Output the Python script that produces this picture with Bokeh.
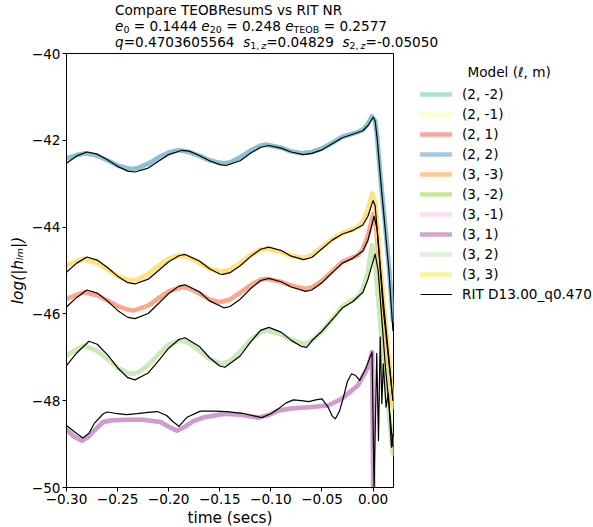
from bokeh.plotting import figure
from bokeh.models import Legend, LegendItem, FixedTicker, Range1d, Div
from bokeh.layouts import column
from bokeh.embed import file_html
from bokeh.resources import INLINE

FONT = "DejaVu Sans"

# ---------------- data ----------------
x_ticks = [-0.30, -0.25, -0.20, -0.15, -0.10, -0.05, 0.00]
x_tick_labels = ["\u22120.30", "\u22120.25", "\u22120.20", "\u22120.15", "\u22120.10", "\u22120.05", "0.00"]
y_ticks = [-50, -48, -46, -44, -42, -40]
y_tick_labels = ["\u221250", "\u221248", "\u221246", "\u221244", "\u221242", "\u221240"]

mode_labels = ["(2, -2)", "(2, -1)", "(2, 1)", "(2, 2)", "(3, -3)",
               "(3, -2)", "(3, -1)", "(3, 1)", "(3, 2)", "(3, 3)"]
mode_keys = ["22", "21", "21", "22", "33", "32", "31", "31", "32", "33"]
mode_colors = ["#8dd3c7", "#ffffb3", "#fb8072", "#80b1d3", "#fdb462",
               "#b3de69", "#fccde5", "#bc80bd", "#ccebc5", "#ffed6f"]
rit_label = "RIT D13.00_q0.470"

teob_22 = [(-0.300, -42.42), (-0.290, -42.34), (-0.281, -42.30), (-0.270, -42.35), (-0.260, -42.46),
           (-0.250, -42.58), (-0.240, -42.65), (-0.236, -42.66), (-0.230, -42.64), (-0.220, -42.54),
           (-0.210, -42.40), (-0.200, -42.28), (-0.190, -42.23), (-0.180, -42.27), (-0.170, -42.36),
           (-0.160, -42.46), (-0.150, -42.52), (-0.146, -42.53), (-0.140, -42.51), (-0.130, -42.39),
           (-0.120, -42.24), (-0.110, -42.12), (-0.104, -42.10), (-0.090, -42.17), (-0.080, -42.26),
           (-0.070, -42.30), (-0.060, -42.27), (-0.050, -42.19), (-0.040, -42.06), (-0.030, -41.92),
           (-0.020, -41.85), (-0.015, -41.81), (-0.010, -41.76), (-0.005, -41.62), (-0.001, -41.45),
           (0.002, -41.55), (0.0036, -41.84), (0.0085, -43.16), (0.0117, -43.92), (0.0155, -44.90),
           (0.0195, -46.15)]
rit_22 = [(-0.300, -42.53), (-0.290, -42.36), (-0.280, -42.27), (-0.270, -42.32), (-0.260, -42.45),
          (-0.250, -42.60), (-0.240, -42.71), (-0.233, -42.73), (-0.220, -42.64), (-0.210, -42.48),
          (-0.200, -42.33), (-0.187, -42.23), (-0.180, -42.25), (-0.170, -42.35), (-0.160, -42.47),
          (-0.150, -42.56), (-0.144, -42.58), (-0.130, -42.47), (-0.120, -42.30), (-0.110, -42.16),
          (-0.102, -42.12), (-0.090, -42.18), (-0.080, -42.27), (-0.068, -42.33), (-0.060, -42.30),
          (-0.050, -42.22), (-0.040, -42.08), (-0.030, -41.94), (-0.020, -41.86), (-0.010, -41.78),
          (-0.005, -41.66), (0.000, -41.47), (0.002, -41.55), (0.004, -41.95), (0.0085, -43.20),
          (0.0117, -44.00), (0.0155, -45.00), (0.0195, -46.40)]

teob_33 = [(-0.300, -44.88), (-0.290, -44.79), (-0.283, -44.73), (-0.270, -44.82), (-0.260, -44.97),
           (-0.250, -45.13), (-0.240, -45.22), (-0.236, -45.23), (-0.230, -45.21), (-0.220, -45.08),
           (-0.210, -44.89), (-0.200, -44.73), (-0.189, -44.65), (-0.180, -44.70), (-0.170, -44.82),
           (-0.160, -44.96), (-0.149, -45.03), (-0.140, -44.98), (-0.130, -44.83), (-0.120, -44.65),
           (-0.110, -44.52), (-0.104, -44.50), (-0.090, -44.57), (-0.080, -44.66), (-0.068, -44.71),
           (-0.060, -44.65), (-0.050, -44.46), (-0.040, -44.28), (-0.030, -44.14), (-0.020, -44.05),
           (-0.015, -44.00), (-0.010, -43.88), (-0.005, -43.60), (-0.0006, -43.23), (0.002, -43.45),
           (0.010, -45.70), (0.0195, -48.15)]
rit_33 = [(-0.300, -45.04), (-0.290, -44.83), (-0.280, -44.69), (-0.270, -44.76), (-0.260, -44.93),
          (-0.250, -45.13), (-0.240, -45.28), (-0.233, -45.31), (-0.220, -45.20), (-0.210, -45.00),
          (-0.200, -44.80), (-0.190, -44.66), (-0.184, -44.63), (-0.170, -44.78), (-0.160, -44.96),
          (-0.150, -45.08), (-0.147, -45.09), (-0.140, -45.05), (-0.130, -44.89), (-0.120, -44.68),
          (-0.110, -44.51), (-0.102, -44.46), (-0.090, -44.54), (-0.080, -44.67), (-0.068, -44.75),
          (-0.060, -44.70), (-0.050, -44.50), (-0.040, -44.30), (-0.030, -44.16), (-0.020, -44.08),
          (-0.010, -43.95), (-0.005, -43.75), (0.000, -43.39), (0.002, -43.50), (0.010, -45.70),
          (0.0195, -48.00)]

teob_21 = [(-0.300, -45.65), (-0.290, -45.56), (-0.283, -45.50), (-0.270, -45.57), (-0.260, -45.69),
           (-0.250, -45.82), (-0.240, -45.90), (-0.234, -45.92), (-0.220, -45.81), (-0.210, -45.64),
           (-0.200, -45.48), (-0.187, -45.38), (-0.180, -45.41), (-0.170, -45.53), (-0.160, -45.67),
           (-0.150, -45.73), (-0.140, -45.67), (-0.130, -45.51), (-0.120, -45.34), (-0.110, -45.21),
           (-0.104, -45.19), (-0.090, -45.26), (-0.080, -45.35), (-0.066, -45.42), (-0.060, -45.39),
           (-0.050, -45.24), (-0.040, -45.02), (-0.030, -44.80), (-0.020, -44.70), (-0.015, -44.65),
           (-0.010, -44.50), (-0.005, -44.20), (0.0003, -43.70), (0.003, -44.00), (0.010, -46.00),
           (0.0195, -48.06)]
rit_21 = [(-0.300, -45.84), (-0.290, -45.62), (-0.280, -45.45), (-0.270, -45.52), (-0.260, -45.70),
          (-0.250, -45.92), (-0.240, -46.08), (-0.233, -46.11), (-0.220, -45.99), (-0.210, -45.76),
          (-0.200, -45.53), (-0.190, -45.36), (-0.184, -45.33), (-0.170, -45.49), (-0.160, -45.70),
          (-0.146, -45.86), (-0.140, -45.83), (-0.130, -45.66), (-0.120, -45.42), (-0.110, -45.23),
          (-0.102, -45.18), (-0.090, -45.26), (-0.080, -45.38), (-0.066, -45.48), (-0.060, -45.45),
          (-0.050, -45.28), (-0.040, -45.05), (-0.030, -44.83), (-0.020, -44.72), (-0.010, -44.55),
          (-0.005, -44.30), (0.001, -43.75), (0.004, -44.05), (0.010, -45.90), (0.0195, -48.00)]

teob_32 = [(-0.300, -46.96), (-0.290, -46.82), (-0.283, -46.73), (-0.270, -46.85), (-0.260, -47.04),
           (-0.250, -47.24), (-0.240, -47.37), (-0.236, -47.38), (-0.230, -47.35), (-0.220, -47.18),
           (-0.210, -46.93), (-0.200, -46.71), (-0.189, -46.61), (-0.180, -46.67), (-0.170, -46.85),
           (-0.160, -47.04), (-0.148, -47.15), (-0.140, -47.09), (-0.130, -46.87), (-0.120, -46.60),
           (-0.110, -46.42), (-0.104, -46.38), (-0.090, -46.47), (-0.080, -46.60), (-0.066, -46.69),
           (-0.060, -46.62), (-0.050, -46.40), (-0.040, -46.12), (-0.030, -45.83), (-0.020, -45.68),
           (-0.015, -45.61), (-0.010, -45.42), (-0.005, -45.05), (-0.001, -44.42), (0.002, -44.80),
           (0.010, -47.00), (0.0195, -49.22)]
rit_32 = [(-0.300, -47.19), (-0.290, -46.90), (-0.278, -46.63), (-0.270, -46.70), (-0.260, -46.94),
          (-0.250, -47.24), (-0.240, -47.47), (-0.233, -47.52), (-0.220, -47.36), (-0.210, -47.08),
          (-0.200, -46.79), (-0.190, -46.59), (-0.184, -46.55), (-0.170, -46.75), (-0.160, -47.01),
          (-0.150, -47.20), (-0.145, -47.23), (-0.130, -46.97), (-0.120, -46.65), (-0.110, -46.38),
          (-0.102, -46.31), (-0.090, -46.42), (-0.080, -46.61), (-0.070, -46.75), (-0.065, -46.77),
          (-0.060, -46.62), (-0.050, -46.40), (-0.040, -46.13), (-0.030, -45.86), (-0.020, -45.72),
          (-0.010, -45.50), (-0.005, -45.20), (0.002, -44.62), (0.005, -45.00), (0.012, -47.20),
          (0.0195, -49.07)]

teob_31 = [(-0.300, -48.67), (-0.293, -48.82), (-0.285, -48.92), (-0.279, -48.84), (-0.273, -48.69),
           (-0.264, -48.49), (-0.255, -48.45), (-0.241, -48.44), (-0.225, -48.44), (-0.208, -48.49),
           (-0.200, -48.60), (-0.192, -48.69), (-0.184, -48.60), (-0.176, -48.47), (-0.165, -48.38),
           (-0.145, -48.30), (-0.128, -48.33), (-0.112, -48.39), (-0.102, -48.33), (-0.093, -48.23),
           (-0.080, -48.18), (-0.063, -48.15), (-0.044, -48.11), (-0.031, -47.96), (-0.015, -47.65),
           (-0.005, -47.23), (-0.001, -46.88), (0.0004, -50.50), (0.0008, -52.00)]
rit_31 = [(-0.300, -48.57), (-0.292, -48.72), (-0.284, -48.86), (-0.278, -48.75), (-0.273, -48.53),
          (-0.264, -48.30), (-0.260, -48.26), (-0.250, -48.30), (-0.241, -48.32), (-0.231, -48.30),
          (-0.220, -48.27), (-0.211, -48.25), (-0.202, -48.34), (-0.196, -48.48), (-0.190, -48.59),
          (-0.182, -48.38), (-0.169, -48.24), (-0.155, -48.24), (-0.143, -48.25), (-0.128, -48.29),
          (-0.109, -48.39), (-0.100, -48.30), (-0.093, -48.19), (-0.085, -48.05), (-0.078, -47.98),
          (-0.070, -48.00), (-0.063, -48.02), (-0.056, -47.98), (-0.050, -47.96), (-0.044, -48.15),
          (-0.040, -48.35), (-0.037, -48.42), (-0.033, -48.25), (-0.029, -47.92), (-0.025, -47.55),
          (-0.021, -47.38), (-0.017, -47.42), (-0.013, -47.53), (-0.007, -47.25), (-0.001, -46.88),
          (0.001, -50.00), (0.0036, -46.91), (0.0053, -48.92), (0.007, -46.53), (0.0086, -48.07),
          (0.010, -47.15), (0.0127, -48.15), (0.015, -47.83), (0.018, -49.07), (0.0195, -48.76)]

teob = {"22": teob_22, "21": teob_21, "33": teob_33, "32": teob_32, "31": teob_31}
rit_order = [rit_22, rit_33, rit_21, rit_32, rit_31]

# ---------------- figure ----------------
p = figure(frame_width=327, frame_height=434, x_range=Range1d(-0.30, 0.02), y_range=Range1d(-50, -40),
           output_backend="svg", toolbar_location=None,
           min_border_left=66, min_border_right=0, min_border_top=9, min_border_bottom=40)
p.grid.visible = False
p.outline_line_color = "black"
p.outline_line_alpha = 1.0
p.outline_line_width = 1
p.background_fill_color = "white"
p.border_fill_alpha = 0.0

for ax in (p.xaxis[0], p.yaxis[0]):
    ax.axis_line_color = "black"
    ax.major_tick_line_color = "black"
    ax.minor_tick_line_color = None
    ax.major_tick_out = 4
    ax.major_tick_in = 0
    ax.major_label_standoff = 2
    ax.major_label_text_font = FONT
    ax.major_label_text_font_size = "13.6px"
    ax.major_label_text_color = "black"
    ax.axis_label_text_font = FONT
    ax.axis_label_text_font_size = "15.3px"
    ax.axis_label_text_color = "black"
    ax.axis_label_standoff = 2

p.xaxis.ticker = FixedTicker(ticks=x_ticks)
p.yaxis.ticker = FixedTicker(ticks=y_ticks)
p.xaxis.major_label_overrides = dict(zip(x_ticks, x_tick_labels))
p.yaxis.major_label_overrides = dict(zip(y_ticks, y_tick_labels))
p.xaxis.axis_label = "time (secs)"
p.xaxis.axis_label_text_font_style = "normal"
p.yaxis.axis_label = "log(|h\u2097\u2098|)"
p.yaxis.axis_label_text_font_style = "italic"

items = []
for lab, key, col in zip(mode_labels, mode_keys, mode_colors):
    pts = teob[key]
    r = p.line([a for a, _ in pts], [b for _, b in pts], line_color=col, line_alpha=0.7,
               line_width=4.6, line_join="round", line_cap="round")
    items.append(LegendItem(label=lab, renderers=[r]))

rit_renderers = []
for pts in rit_order:
    r = p.line([a for a, _ in pts], [b for _, b in pts], line_color="black", line_width=1.2,
               line_join="round")
    rit_renderers.append(r)
items.append(LegendItem(label=rit_label, renderers=[rit_renderers[0]]))

legend = Legend(items=items, title="\u00a0" * 11 + "Model (\u2113, m)", location=(27, 183),
                margin=15, padding=0, spacing=0, glyph_width=32, glyph_height=20,
                label_height=20, label_standoff=10, title_standoff=4,
                label_text_font=FONT, label_text_font_size="13.6px", label_text_color="black",
                title_text_font=FONT, title_text_font_size="13.6px", title_text_font_style="normal",
                title_text_color="black",
                border_line_alpha=0, background_fill_alpha=0)
p.add_layout(legend, "right")

title_html = (
    "<style>sub{font-size:70%;line-height:0;vertical-align:-0.22em}</style>"
    "<div style=\"font-family:'DejaVu Sans';font-size:13.6px;line-height:16px;color:#000;"
    "padding-left:115px;padding-top:2px;white-space:nowrap;text-align:left;overflow:visible\">"
    "Compare TEOBResumS vs RIT NR<br>"
    "<i>e</i><sub>0</sub> = 0.1444 <i>e</i><sub>20</sub> = 0.248 <i>e</i><sub>TEOB</sub> = 0.2577<br>"
    "<i>q</i>=0.4703605564&nbsp;&nbsp;<i>s</i><sub>1,&thinsp;<i>z</i></sub>=0.04829&nbsp;&nbsp;"
    "<i>s</i><sub>2,&thinsp;<i>z</i></sub>=-0.05050"
    "</div>"
)
title_div = Div(text=title_html, width=593, height=44, margin=(0, 0, 0, 0),
                styles={"overflow": "visible", "z-index": "5"})

layout = column(title_div, p, spacing=0)
open("out.html", "w").write(file_html(layout, INLINE))
